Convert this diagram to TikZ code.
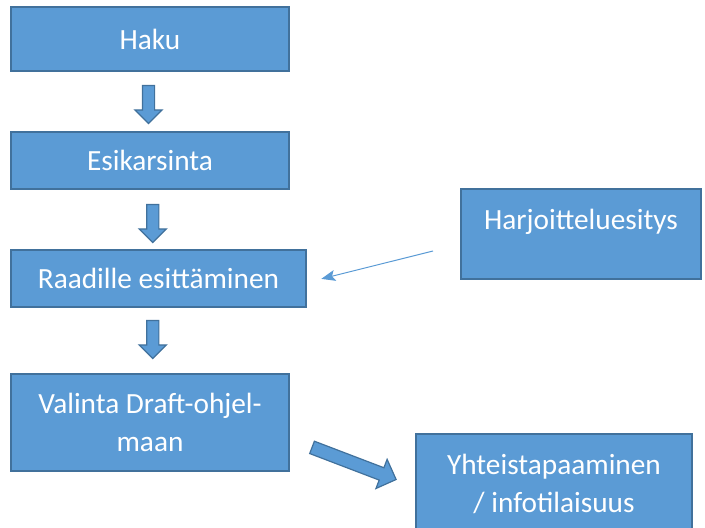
\documentclass[tikz,border=0pt]{standalone}
\usepackage{fontspec}
\setmainfont{Carlito}
\usetikzlibrary{shapes.arrows, arrows.meta, positioning, calc}
\definecolor{laatikkosin}{HTML}{5B9BD5}
\definecolor{reunasin}{HTML}{41719C}
\tikzset{
  laatikko/.style={draw=reunasin, line width=1.5pt, fill=laatikkosin, text=white,
    font=\fontsize{29.3}{38}\selectfont, align=center, inner sep=0pt},
  nuoli/.style={single arrow, draw=reunasin, line width=1.2pt, fill=laatikkosin,
    inner sep=0pt, text height=5.5pt, text depth=5.5pt,
    single arrow head extend=7.5pt, minimum height=38pt, rotate=-90},
  ohutnuoli/.style={draw=laatikkosin, line width=1pt,
    -{Stealth[length=14pt,width=11pt,inset=3pt]}}
}
\begin{document}
\begin{tikzpicture}[x=1pt, y=-1pt]
  \useasboundingbox (0,0) rectangle (705,528);
  % laatikot
  \node[laatikko, minimum width=278pt, minimum height=64pt] (haku) at (150,39) {Haku};
  \node[laatikko, minimum width=278pt, minimum height=57pt] (esikarsinta) at (150,160.5) {Esikarsinta};
  \node[laatikko, minimum width=295pt, minimum height=57pt] (raadille) at (158.5,278.5) {Raadille esittäminen};
  \node[laatikko, minimum width=278pt, minimum height=97pt] (valinta) at (150,422.5) {Valinta Draft-ohjel-\\maan};
  \node[laatikko, minimum width=240pt, minimum height=90pt, text depth=29pt] (harjoittelu) at (581,234) {Harjoitteluesitys};
  \node[laatikko, minimum width=276pt, minimum height=100pt] (yhteis) at (554,484) {Yhteistapaaminen\\/ infotilaisuus};
  % nuolet
  \node[nuoli] (nuoli1) at ($(haku.south)!0.5!(esikarsinta.north)+(-1.5,0)$) {};
  \node[nuoli] (nuoli2) at ($(esikarsinta.south)!0.5!(raadille.north)+(-1.5,1)$) {};
  \node[nuoli] (nuoli3) at ($(raadille.south)!0.5!(valinta.north)+(-1.5,-4)$) {};
  \node[nuoli, rotate=69.1, text height=6pt, text depth=6pt, single arrow head extend=9pt,
    minimum height=90pt] (nuoli4) at ($(valinta.east)!0.5!(yhteis.west)+(-1.5,9)$) {};
  \coordinate (harjalku) at (433,251);
  \draw[ohutnuoli, shorten >=15pt] (harjalku) -- ([yshift=-4pt]raadille.east);
\end{tikzpicture}
\end{document}
